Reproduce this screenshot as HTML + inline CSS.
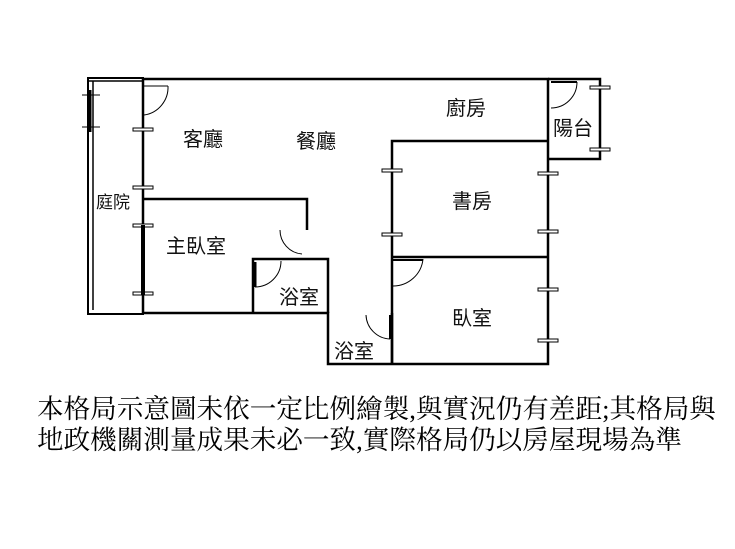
<!DOCTYPE html>
<html><head><meta charset="utf-8"><style>
html,body{margin:0;padding:0;background:#fff;width:735px;height:549px;overflow:hidden}
svg{position:absolute;left:0;top:0}
.t{font-family:"Liberation Sans","Noto Sans CJK TC",sans-serif;font-size:20px;fill:#111}
.n{position:absolute;left:37px;font-family:"Liberation Serif","Noto Serif CJK TC","Noto Sans CJK TC",serif;font-size:26.6px;color:#000;white-space:nowrap;line-height:31px}
</style></head><body>
<svg width="735" height="549" viewBox="0 0 735 549">
<g fill="none" stroke="#000" stroke-width="2.5">
<polyline points="143,79 548,79 548,364 328,364 328,313 143,313 143,79"/>
<rect x="88" y="78" width="55" height="236" stroke-width="2"/>
<line x1="93" y1="81" x2="93" y2="310" stroke-width="1.5"/>
<line x1="88" y1="81" x2="143" y2="81" stroke-width="1.5"/>
<polyline points="143,199 307,199 307,230"/>
<polyline points="253,313 253,259 328,259 328,313"/>
<line x1="392" y1="313" x2="392" y2="364"/>
<polyline points="392,364 392,141 548,141"/>
<line x1="392" y1="257" x2="548" y2="257"/>
<polyline points="548,79 600,79 600,159 548,159"/>
</g>
<g fill="none" stroke="#000" stroke-width="1">
<path d="M144,115 A28,28 0 0 0 168,86"/><line x1="144" y1="86" x2="168" y2="86"/>
<path d="M302,254 A24,24 0 0 1 280,230"/>
<path d="M255,287 A26,26 0 0 0 281,261"/><line x1="255" y1="262" x2="255" y2="287" stroke-width="3"/>
<path d="M390,339 A25,25 0 0 1 366,315"/><line x1="390" y1="315" x2="390" y2="339" stroke-width="2"/>
<path d="M393,286 A30,30 0 0 0 423,259"/><line x1="393" y1="260" x2="423" y2="260" stroke-width="2"/>
<path d="M551,108 A26,26 0 0 0 577,82"/><line x1="551" y1="82" x2="577" y2="82" stroke-width="2"/>
</g>
<g fill="#fff" stroke="#000" stroke-width="1">
<rect x="133" y="128" width="20" height="3"/><rect x="133" y="186" width="20" height="3"/>
<rect x="133" y="224" width="20" height="3"/><rect x="133" y="292" width="20" height="3"/>
<rect x="382" y="169" width="20" height="3"/><rect x="382" y="233" width="20" height="3"/>
<rect x="538" y="172" width="20" height="3"/><rect x="538" y="230" width="20" height="3"/>
<rect x="538" y="288" width="20" height="3"/><rect x="538" y="339" width="20" height="3"/>
<rect x="590" y="86" width="20" height="3"/><rect x="590" y="148" width="20" height="3"/>
<line x1="82" y1="95" x2="100" y2="95"/><line x1="82" y1="127" x2="100" y2="127"/>
</g>
<line x1="90" y1="90" x2="90" y2="132" stroke="#000" stroke-width="3"/>
<line x1="143" y1="225" x2="143" y2="295" stroke="#000" stroke-width="4"/>
<text class="t" x="183" y="146">客廳</text>
<text class="t" x="296" y="148">餐廳</text>
<text class="t" x="446" y="115">廚房</text>
<text class="t" x="553" y="135">陽台</text>
<text class="t" x="96" y="208" style="font-size:17px">庭院</text>
<text class="t" x="452" y="208">書房</text>
<text class="t" x="166" y="253">主臥室</text>
<text class="t" x="279" y="304">浴室</text>
<text class="t" x="334" y="358">浴室</text>
<text class="t" x="452" y="325">臥室</text>
</svg>
<div class="n" style="top:394px">本格局示意圖未依一定比例繪製,與實況仍有差距;其格局與</div>
<div class="n" style="top:425px">地政機關測量成果未必一致,實際格局仍以房屋現場為準</div>
</body></html>
